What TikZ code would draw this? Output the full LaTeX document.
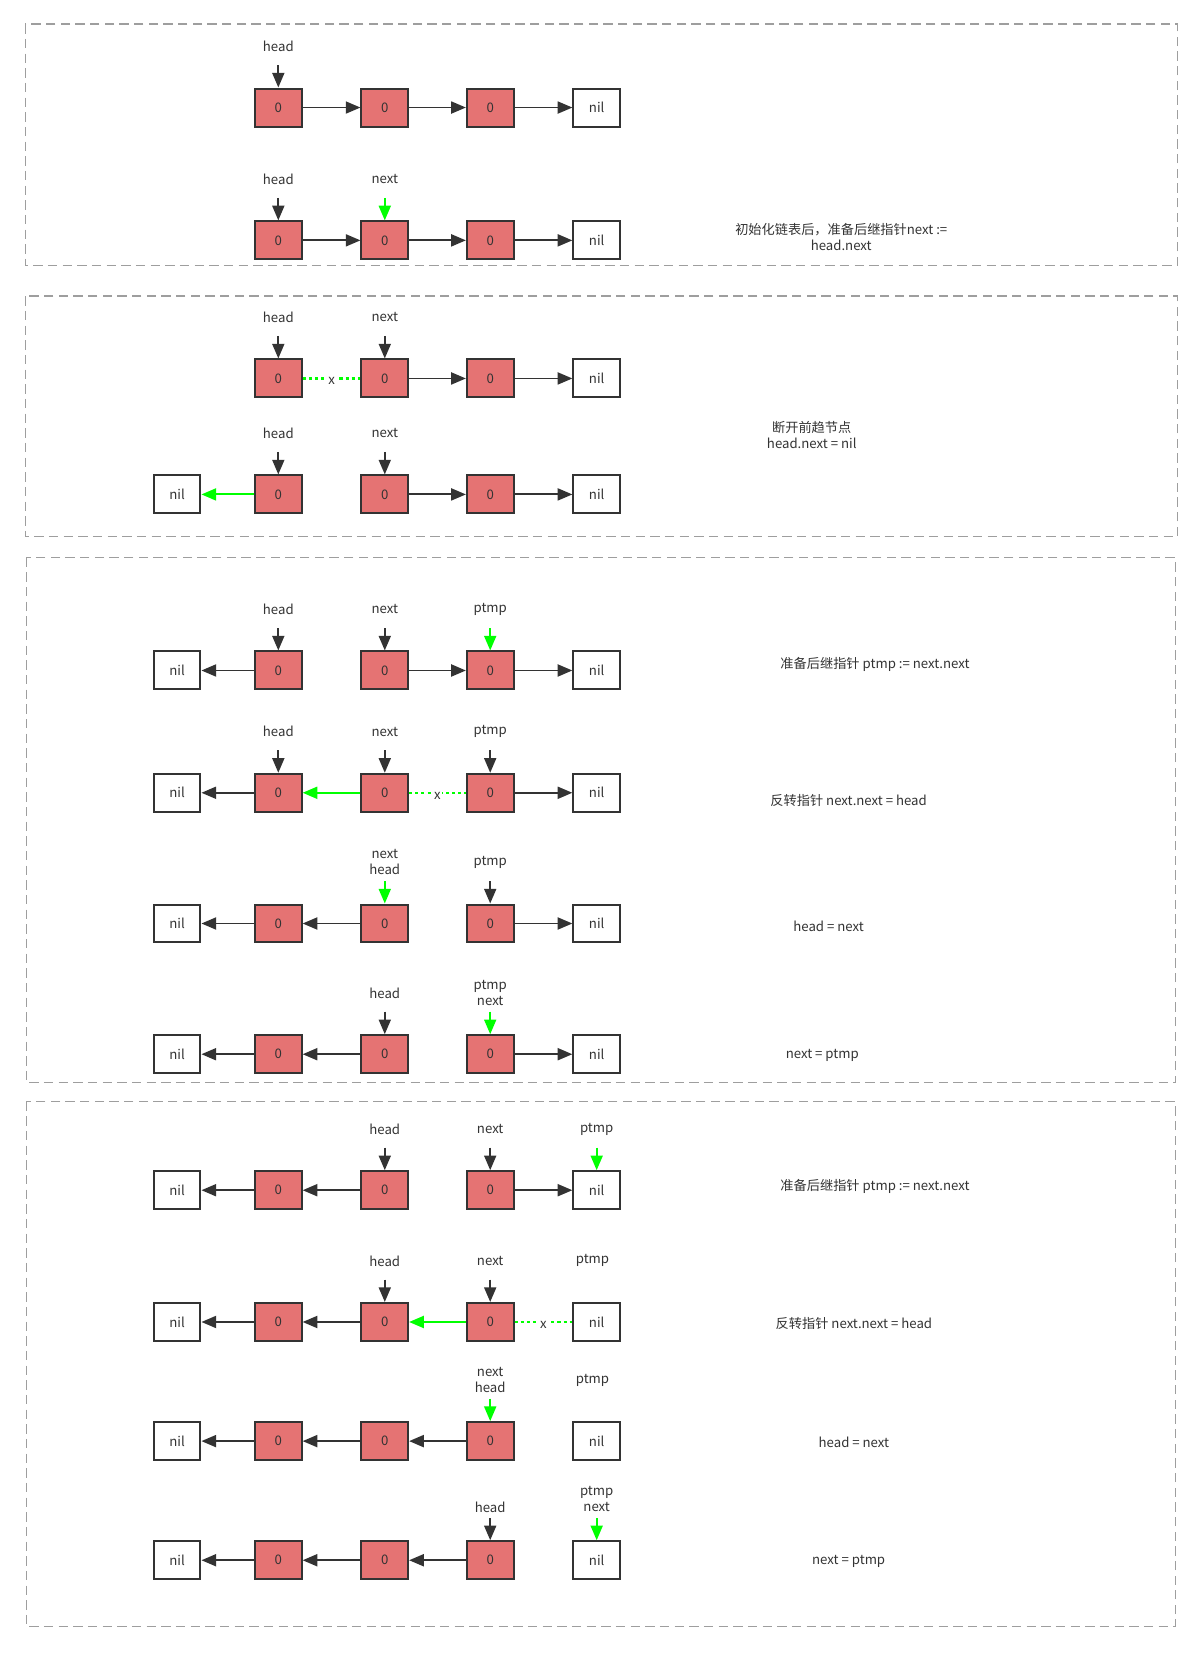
\documentclass[tikz,border=0pt]{standalone}
\usepackage{fontspec}
\setmainfont{Noto Sans CJK SC}
\usetikzlibrary{arrows.meta,calc}
\definecolor{cellred}{HTML}{E57373}
\definecolor{ink}{HTML}{333333}
\definecolor{ptrgreen}{HTML}{00FF00}
\definecolor{framegray}{HTML}{9E9E9E}

\begin{document}
\begin{tikzpicture}[x=0.7907pt, y=-0.7907pt, font=\fontsize{9.9}{12}\selectfont, text=ink,
    cell/.style={draw=ink, line width=1.5pt, fill=cellred, minimum width=35pt, minimum height=28.5pt, inner sep=0pt},
    nil/.style={cell, fill=white},
    lnk/.style={draw=ink, line width=1.4pt, -{Triangle[length=11pt, width=9pt]}},
    ptr/.style={lnk, shorten <=14pt},
    cut/.style={draw=ptrgreen, line width=1.6pt, dash pattern=on 2.3pt off 2.3pt},
    cross/.style={fill=white, inner sep=1pt, yshift=-2pt},
    frame/.style={draw=framegray, line width=1.2pt, dash pattern=on 7pt off 4pt},
    lbl/.style={align=center, inner sep=1pt},
    note/.style={align=center, inner sep=0pt}]
      \useasboundingbox (0,0) rectangle (1141,1568);
      \draw[frame] (24,23) rectangle (1117,252);
      \draw[frame] (24,281) rectangle (1117,509);
      \draw[frame] (25,529) rectangle (1115,1027);
      \draw[frame] (25,1045) rectangle (1115,1543);
      \foreach \i/\y in {1/102, 2/228, 3/359, 4/469, 5/636, 6/752, 7/876, 8/1000, 9/1129, 10/1254, 11/1367, 12/1480}{
        \node[cell] (a\i) at (264,\y) {0};
        \node[cell] (b\i) at (365,\y) {0};
        \node[cell] (c\i) at (465,\y) {0};
        \node[nil] (n\i) at (566,\y) {nil};
      }
      \foreach \i/\y in {4/469, 5/636, 6/752, 7/876, 8/1000, 9/1129, 10/1254, 11/1367, 12/1480}{
        \node[nil] (l\i) at (168,\y) {nil};
      }
      \foreach \i in {1,2}{\draw[lnk] (a\i) -- (b\i);}
      \foreach \i in {1,...,5}{\draw[lnk] (b\i) -- (c\i);}
      \foreach \i in {1,...,9}{\draw[lnk] (c\i) -- (n\i);}
      \foreach \i in {5,...,12}{\draw[lnk] (a\i) -- (l\i);}
      \foreach \i in {7,...,12}{\draw[lnk] (b\i) -- (a\i);}
      \foreach \i in {11,12}{\draw[lnk] (c\i) -- (b\i);}
      \draw[lnk, draw=ptrgreen] (a4) -- (l4);
      \draw[lnk, draw=ptrgreen] (b6) -- (a6);
      \draw[lnk, draw=ptrgreen] (c10) -- (b10);
      \draw[cut] (a3) -- node[cross] (x3) {x} (b3);
      \draw[cut] (b6) -- node[cross] (x6) {x} (c6);
      \draw[cut] (c10) -- node[cross] (x10) {x} (n10);
      \foreach \t/\b/\c [count=\k] in {head/a1/ink, head/a2/ink, next/b2/ptrgreen,
          head/a3/ink, next/b3/ink, head/a4/ink, next/b4/ink,
          head/a5/ink, next/b5/ink, ptmp/c5/ptrgreen,
          head/a6/ink, next/b6/ink, ptmp/c6/ink,
          {next\\head}/b7/ptrgreen, ptmp/c7/ink,
          head/b8/ink, {ptmp\\next}/c8/ptrgreen,
          head/b9/ink, next/c9/ink, ptmp/n9/ptrgreen,
          head/b10/ink, next/c10/ink,
          {next\\head}/c11/ptrgreen,
          {ptmp\\next}/n12/ptrgreen}{
        \node[lbl] (p\k) at ($(\b)+(0,-58)$) {\t};
        \draw[ptr, draw=\c] (p\k.center) -- (\b);
      }
      \node[lbl] (h12) at ($(c12)+(0,-50)$) {head};
      \draw[ptr, shorten <=8pt] (h12.center) -- (c12);
      \node[lbl] (q10) at ($(n10)+(-4,-58)$) {ptmp};
      \node[lbl] (q11) at ($(n11)+(-4,-58)$) {ptmp};
      \node[note] (t1) at (798,225) {初始化链表后，准备后继指针next :=\\head.next};
      \node[note] (t2) at (770,413) {断开前趋节点\\head.next = nil};
      \node[note] (t3) at (830,630) {准备后继指针 ptmp := next.next};
      \node[note] (t4) at (805,759) {反转指针 next.next = head};
      \node[note] (t5) at (786,879) {head = next};
      \node[note] (t6) at (780,1001) {next = ptmp};
      \node[note] (t7) at (830,1125) {准备后继指针 ptmp := next.next};
      \node[note] (t8) at (810,1255) {反转指针 next.next = head};
      \node[note] (t9) at (810,1368) {head = next};
      \node[note] (t10) at (805,1481) {next = ptmp};
    \end{tikzpicture}
\end{document}
